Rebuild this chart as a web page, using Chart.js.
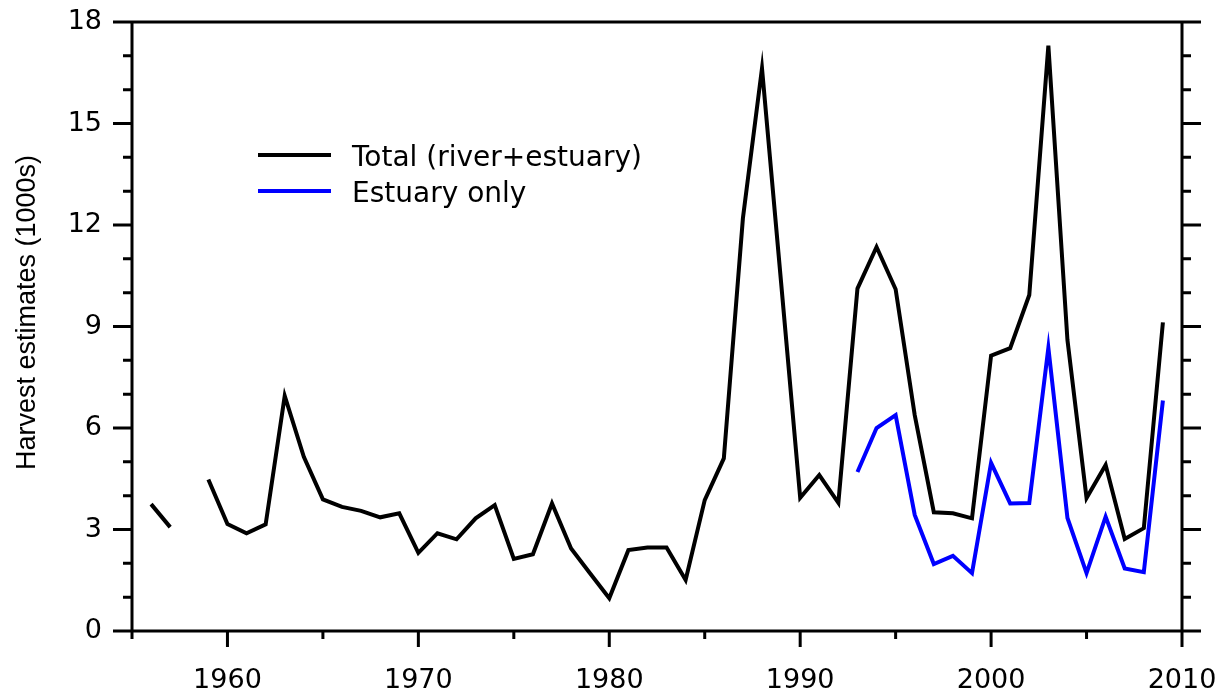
<!DOCTYPE html>
<html>
<head>
<meta charset="utf-8">
<script src="https://cdn.jsdelivr.net/npm/chart.js@4/dist/chart.umd.min.js"></script>
<style>
html,body{margin:0;padding:0;background:#fff;}
#wrap{width:1221px;height:692px;position:relative;}
</style>
</head>
<body>
<div id="wrap"><canvas id="c" width="1221" height="692"></canvas></div>
<script>
// ---- data ----
const years = [1956,1957,1958,1959,1960,1961,1962,1963,1964,1965,1966,1967,1968,1969,
  1970,1971,1972,1973,1974,1975,1976,1977,1978,1979,1980,1981,1982,1983,1984,1985,
  1986,1987,1988,1989,1990,1991,1992,1993,1994,1995,1996,1997,1998,1999,2000,2001,
  2002,2003,2004,2005,2006,2007,2008,2009];
const totalHarvest = [3.75,3.07,null,4.48,3.16,2.89,3.15,6.95,5.15,3.89,3.67,3.55,3.36,3.48,
  2.31,2.89,2.71,3.33,3.72,2.13,2.27,3.77,2.44,1.70,0.97,2.39,2.47,2.47,1.51,3.87,
  5.10,12.2,16.63,10.3,3.94,4.61,3.79,10.12,11.35,10.1,6.38,3.51,3.48,3.33,8.14,8.36,
  9.93,17.3,8.6,3.93,4.91,2.72,3.04,9.12];
const estuaryYears = [1993,1994,1995,1996,1997,1998,1999,2000,2001,2002,2003,2004,2005,2006,2007,2008,2009];
const estuaryHarvest = [4.70,6.00,6.38,3.43,1.98,2.22,1.71,4.97,3.77,3.78,8.37,3.34,1.71,3.38,1.85,1.74,6.81];
const xTickLabels = [1960,1970,1980,1990,2000,2010];
const yTickLabels = [0,3,6,9,12,15,18];
const seriesNames = ['Total (river+estuary)','Estuary only'];
const seriesColors = ['#000000','#0000ff'];
const yAxisTitle = 'Harvest estimates (1000s)';

const FONT = '"DejaVu Sans", "Liberation Sans", Arial, sans-serif';
const TITLE_FONT = '"Liberation Sans", Arial, sans-serif';

const framePlugin = {
  id: 'frame',
  afterDatasetsDraw(chart) {
    const ctx = chart.ctx, xs = chart.scales.x, ys = chart.scales.y;
    const xL = xs.getPixelForValue(xs.min), xR = xs.getPixelForValue(xs.max);
    const yT = ys.getPixelForValue(ys.max), yB = ys.getPixelForValue(ys.min);
    ctx.save();
    ctx.strokeStyle = '#000';
    ctx.lineWidth = 3;
    ctx.lineCap = 'butt';
    ctx.beginPath();
    ctx.moveTo(xL, yT); ctx.lineTo(xL, yB);
    ctx.moveTo(xR, yT); ctx.lineTo(xR, yB);
    ctx.moveTo(xL, yT); ctx.lineTo(xR, yT);
    ctx.moveTo(xL, yB); ctx.lineTo(xR, yB);
    for (let v = ys.min; v <= ys.max + 1e-9; v += 1) {
      const y = ys.getPixelForValue(v);
      const len = (Math.round(v) % 3 === 0) ? 19 : 9;
      ctx.moveTo(xL - len, y); ctx.lineTo(xL, y);
      ctx.moveTo(xR, y); ctx.lineTo(xR + len, y);
    }
    for (let v = xs.min; v <= xs.max + 1e-9; v += 5) {
      const x = xs.getPixelForValue(v);
      const len = (Math.round(v) % 10 === 0) ? 16 : 8;
      ctx.moveTo(x, yB); ctx.lineTo(x, yB + len);
    }
    ctx.stroke();
    // legend
    const lx = xL + 126, ly = yT + 133;
    ctx.font = '28px ' + FONT;
    ctx.textBaseline = 'alphabetic';
    ctx.textAlign = 'left';
    chart.data.datasets.forEach((ds, i) => {
      const y = ly + i * 36;
      ctx.strokeStyle = ds.borderColor;
      ctx.lineWidth = 4;
      ctx.beginPath();
      ctx.moveTo(lx, y); ctx.lineTo(lx + 73, y);
      ctx.stroke();
      ctx.fillStyle = '#000';
      ctx.fillText(ds.label, lx + 94, y + 11);
    });
    // y axis title
    ctx.translate(28, (yT + yB) / 2 - 14);
    ctx.rotate(-Math.PI / 2);
    ctx.font = '27px ' + TITLE_FONT;
    ctx.textAlign = 'center';
    ctx.textBaseline = 'middle';
    ctx.fillStyle = '#000';
    ctx.fillText(yAxisTitle, 0, 0);
    ctx.restore();
  }
};

new Chart(document.getElementById('c'), {
  type: 'line',
  data: {
    datasets: [
      { label: seriesNames[0], data: years.map((y, i) => ({x: y, y: totalHarvest[i]})),
        borderColor: seriesColors[0], borderWidth: 4, pointRadius: 0, spanGaps: false,
        tension: 0, fill: false },
      { label: seriesNames[1], data: estuaryYears.map((y, i) => ({x: y, y: estuaryHarvest[i]})),
        borderColor: seriesColors[1], borderWidth: 4, pointRadius: 0, spanGaps: false,
        tension: 0, fill: false }
    ]
  },
  options: {
    responsive: false,
    animation: false,
    devicePixelRatio: 1,
    layout: { padding: { left: 0, top: 22, right: 39, bottom: 0 } },
    plugins: { legend: { display: false }, tooltip: { enabled: false } },
    scales: {
      x: {
        type: 'linear', min: 1955, max: 2010,
        afterBuildTicks: s => { s.ticks = xTickLabels.map(v => ({value: v})); },
        afterFit: s => { s.height = 61; s.paddingLeft = 0; s.paddingRight = 0; s.paddingTop = 0; s.paddingBottom = 0; },
        grid: { display: false, drawTicks: false },
        border: { display: false },
        ticks: { color: '#000', font: { family: FONT, size: 27 }, padding: 34,
                 maxRotation: 0, autoSkip: false, callback: v => String(v) }
      },
      y: {
        type: 'linear', min: 0, max: 18,
        afterBuildTicks: s => { s.ticks = yTickLabels.map(v => ({value: v})); },
        afterFit: s => { s.width = 132; s.paddingLeft = 0; s.paddingRight = 0; s.paddingTop = 0; s.paddingBottom = 0; },
        grid: { display: false, drawTicks: false },
        border: { display: false },
        ticks: { color: '#000', font: { family: FONT, size: 27 }, padding: 30,
                 callback: v => String(v) },
        title: { display: false, text: yAxisTitle }
      }
    }
  },
  plugins: [framePlugin]
});
</script>
</body>
</html>
